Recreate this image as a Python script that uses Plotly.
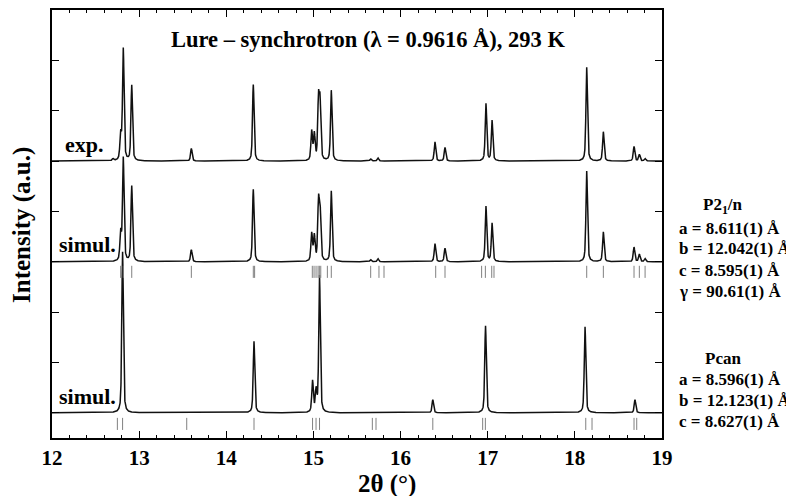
import numpy as np
import plotly.graph_objects as go

# ---------------- data ----------------
# experimental pattern: peak positions (2theta, deg) and heights (a.u.)
exp_pos = [12.70, 12.788, 12.818, 12.915, 13.599, 14.31, 14.98, 15.01, 15.058, 15.076,
           15.205, 15.657, 15.74, 16.395, 16.51, 16.98, 17.05, 18.136, 18.327, 18.679,
           18.74, 18.805]
exp_int = [0.04, 0.50, 2.22, 1.50, 0.25, 1.52, 0.58, 0.52, 1.17, 1.10,
           1.40, 0.04, 0.06, 0.38, 0.27, 1.14, 0.80, 1.86, 0.58, 0.29,
           0.13, 0.05]

# simulated P2_1/n
p21_pos = [12.788, 12.818, 12.915, 13.599, 14.31, 14.98, 15.01, 15.058, 15.076,
           15.205, 15.657, 15.74, 16.395, 16.51, 16.98, 17.05, 18.136, 18.327,
           18.679, 18.74, 18.805]
p21_int = [0.55, 2.05, 1.50, 0.24, 1.44, 0.55, 0.50, 1.12, 1.00,
           1.40, 0.04, 0.06, 0.36, 0.27, 1.10, 0.76, 1.80, 0.59,
           0.29, 0.15, 0.06]
p21_refl = [12.788, 12.818, 12.915, 13.599, 14.31, 14.325, 14.987, 15.007, 15.03,
            15.053, 15.068, 15.084, 15.16, 15.205, 15.657, 15.752, 15.81, 16.403,
            16.51, 16.93, 16.973, 17.046, 17.072, 18.136, 18.327, 18.679, 18.74, 18.806]

# simulated Pcan
pcan_pos = [12.81, 14.318, 14.99, 15.03, 15.07, 16.37, 16.975, 18.117, 18.69]
pcan_int = [3.2, 1.42, 0.62, 0.42, 2.72, 0.26, 1.73, 1.71, 0.26]
pcan_refl = [12.75, 12.81, 13.546, 14.318, 14.99, 15.03, 15.07, 15.676, 15.718,
             16.37, 16.942, 16.973, 18.125, 18.197, 18.679, 18.71]

x_ticks = [12, 13, 14, 15, 16, 17, 18, 19]

# vertical offsets of the stacked patterns
off_exp, off_p21, off_pcan = 5.0, 3.0, 0.0

# ---------------- geometry (screen pixels; page body has an 8px margin) ----------------
PAGE = 8
W, H = 794, 496
L, R, T, B = 52 - PAGE, 662 - PAGE, 10 - PAGE, 438 - PAGE


def px(xs):
    return (xs - PAGE - L) / (R - L)


def py(ys):
    return (B - (ys - PAGE)) / (B - T)


# ---------------- profile ----------------
tt = np.linspace(12, 19, 7001)


def pattern(pos, inten, fwhm, eta=0.5):
    y = np.zeros_like(tt)
    hw = fwhm / 2
    for p, h in zip(pos, inten):
        d = tt - p
        lor = 1 / (1 + (d / hw) ** 2)
        gau = np.exp(-np.log(2) * (d / hw) ** 2)
        y += h * (eta * lor + (1 - eta) * gau)
    return y


def refl_lines(pos, y0, y1):
    xs, ys = [], []
    for p in pos:
        xs += [p, p, None]
        ys += [y0, y1, None]
    return xs, ys


fig = go.Figure()
line_col = "#111111"
fig.add_trace(go.Scatter(x=tt, y=pattern(exp_pos, exp_int, 0.021) + off_exp, mode="lines",
                         line=dict(color=line_col, width=1.5), hoverinfo="skip"))
fig.add_trace(go.Scatter(x=tt, y=pattern(p21_pos, p21_int, 0.021) + off_p21, mode="lines",
                         line=dict(color=line_col, width=1.5), hoverinfo="skip"))
fig.add_trace(go.Scatter(x=tt, y=pattern(pcan_pos, pcan_int, 0.021) + off_pcan, mode="lines",
                         line=dict(color=line_col, width=1.5), hoverinfo="skip"))

rx, ry = refl_lines(p21_refl, off_p21 - 0.08, off_p21 - 0.32)
fig.add_trace(go.Scatter(x=rx, y=ry, mode="lines", line=dict(color="#808080", width=1), hoverinfo="skip"))
rx, ry = refl_lines(pcan_refl, off_pcan - 0.10, off_pcan - 0.34)
fig.add_trace(go.Scatter(x=rx, y=ry, mode="lines", line=dict(color="#808080", width=1), hoverinfo="skip"))

font_fam = "Liberation Serif, Times New Roman, serif"

fig.update_layout(
    width=W, height=H,
    margin=dict(l=L, r=W - R, t=T, b=H - B, autoexpand=False),
    paper_bgcolor="white", plot_bgcolor="white",
    showlegend=False,
    font=dict(family=font_fam, color="black"),
    xaxis=dict(range=[12, 19], tickvals=x_ticks, ticktext=[str(v) for v in x_ticks],
               ticks="inside", ticklen=7, tickwidth=1, tickcolor="black",
               minor=dict(dtick=0.2, ticks="inside", ticklen=3, tickcolor="black", tickwidth=1),
               showline=True, linecolor="black", linewidth=2, mirror="allticks",
               showgrid=False, zeroline=False, automargin=False, ticklabelstandoff=0,
               tickfont=dict(size=21, family=font_fam, color="black", weight="bold")),
    yaxis=dict(range=[-0.5, 8], tickvals=[0, 1, 2, 3, 4, 5, 6, 7], showticklabels=False,
               ticks="inside", ticklen=7, tickwidth=1, tickcolor="black",
               showline=True, linecolor="black", linewidth=2, mirror="allticks",
               showgrid=False, zeroline=False, automargin=False),
)

anns = [
    dict(x=px(368), y=py(40), text="<b>Lure – synchrotron (λ = 0.9616 Å), 293 K</b>",
         font=dict(size=22.5), xanchor="center", yanchor="middle"),
    dict(x=px(63), y=py(144), text="<b>exp.</b>", font=dict(size=22),
         xanchor="left", yanchor="middle"),
    dict(x=px(57), y=py(244), text="<b>simul.</b>", font=dict(size=22),
         xanchor="left", yanchor="middle"),
    dict(x=px(57), y=py(396), text="<b>simul.</b>", font=dict(size=22),
         xanchor="left", yanchor="middle"),
    dict(x=px(387), y=py(484), text="<b>2θ (°)</b>", font=dict(size=25),
         xanchor="center", yanchor="middle"),
    dict(x=px(22), y=py(225), text="<b>Intensity (a.u.)</b>", font=dict(size=25),
         xanchor="center", yanchor="middle", textangle=-90),
]
right_lines = [
    ("<b>P2<sub>1</sub>/n</b>", 206, "center"),
    ("<b>a = 8.611(1) Å</b>", 228, "left"),
    ("<b>b = 12.042(1) Å</b>", 249, "left"),
    ("<b>c = 8.595(1) Å</b>", 270, "left"),
    ("<b>γ = 90.61(1) Å</b>", 291, "left"),
    ("<b>Pcan</b>", 358, "center"),
    ("<b>a = 8.596(1) Å</b>", 379, "left"),
    ("<b>b = 12.123(1) Å</b>", 400, "left"),
    ("<b>c = 8.627(1) Å</b>", 421, "left"),
]
for txt, yy, anc in right_lines:
    xp = px(677) if anc == "left" else px(723)
    anns.append(dict(x=xp, y=py(yy), text=txt, font=dict(size=17),
                     xanchor=anc, yanchor="middle"))
for a in anns:
    a["showarrow"] = False
    a["xref"] = "paper"
    a["yref"] = "paper"
fig.update_layout(annotations=anns)

fig.write_html("out.html")
